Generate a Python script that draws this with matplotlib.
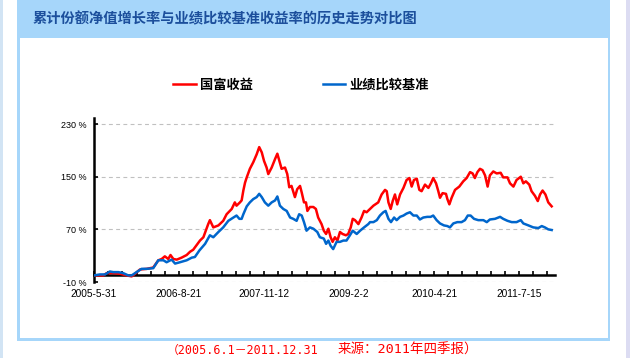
import matplotlib
matplotlib.use("Agg")
import matplotlib.pyplot as plt
from matplotlib.patches import Rectangle
from matplotlib.lines import Line2D

plt.rcParams['font.family'] = ['Noto Sans CJK SC', 'DejaVu Sans']

# ---------------- data (trading-day index, cumulative return %) ----------------
title = "累计份额净值增长率与业绩比较基准收益率的历史走势对比图"
series_names = ["国富收益", "业绩比较基准"]
tick_positions = [0, 300, 600, 900, 1200, 1500]
tick_labels = ["2005-5-31", "2006-8-21", "2007-11-12", "2009-2-2", "2010-4-21", "2011-7-15"]
y_ticks = [-10, 70, 150, 230]
note_left = "（2005.6.1－2011.12.31"
note_right = "来源：2011年四季报）"

red_idx = [0, 33, 45, 68, 92, 115, 133, 145, 162, 186, 209, 227, 239, 250, 262, 270, 280, 292, 309,
           327, 339, 350, 362,
           374, 386, 403, 409, 421, 439, 456, 468, 486, 497, 503, 515, 521, 527, 533, 539, 550, 562,
           574, 583, 592, 600, 609, 615, 627, 639, 647, 654, 662, 674, 682, 689, 697, 709, 717, 727,
           733, 741, 748, 753, 762, 774, 783, 791, 803, 811, 819, 827, 835, 842, 850, 859, 868, 877,
           889, 897, 906, 913, 921, 933, 944, 953, 962,
           974, 986, 1003, 1015, 1027, 1033, 1039, 1047, 1054, 1062, 1070, 1080, 1092, 1103, 1113,
           1121, 1129, 1139, 1148, 1156, 1168, 1180, 1189, 1197, 1207, 1215, 1221, 1230, 1242, 1247,
           1254, 1262, 1274, 1289, 1303, 1315, 1327, 1336, 1344, 1353, 1362, 1371, 1380, 1389, 1397,
           1409, 1421, 1435, 1444, 1459, 1468, 1480, 1491, 1506, 1515, 1524, 1536, 1544, 1556, 1566,
           1574, 1583, 1593, 1603, 1615]
red_val = [0, 0, 3.5, 3.5, 2.5, 0, -1.5, 2.5, 9, 10, 12, 23, 25, 29, 25, 31, 25, 24, 27,
           31, 36, 39, 46,
           53, 58, 78, 84, 73, 76, 83, 93, 101, 111, 106, 111, 114, 129, 141, 149, 162, 172,
           184, 195, 187, 174, 164, 154, 164, 177, 185, 174, 162, 164, 154, 134, 136, 119, 131, 136,
           126, 111, 111, 98, 104, 104, 101, 88, 78, 68, 63, 71, 58, 51, 58, 53, 66, 63,
           61, 63, 73, 86, 84, 78, 88, 98, 96,
           101, 106, 111, 123, 130, 128, 111, 101, 113, 123, 108, 123, 133, 145, 148,
           135, 145, 147, 130, 128, 138, 133, 140, 148, 140, 128, 118, 125, 124, 116,
           108, 118, 130, 135, 143, 148, 157, 155, 148, 157, 162, 160, 152, 135, 152,
           158, 155, 156, 149, 149, 140, 135, 145, 150, 140, 143, 138, 128, 121, 113,
           123, 129, 123, 111, 105]

blue_idx = [0, 21, 39, 56, 68, 86, 103, 121, 133, 150, 168, 186, 209, 227, 245, 256, 274, 286, 303,
            327, 345, 356, 372,
            392, 409, 421, 439, 456, 474, 492, 503, 513, 521, 527, 539, 550, 562, 574, 583, 592, 603,
            615, 627, 639, 647, 656, 668, 680, 692, 703, 715, 724, 733, 741, 750, 762, 774, 788, 797,
            811, 819, 827, 835, 844, 856, 868, 880, 891, 903, 913, 927, 939, 953, 968,
            974, 986, 998, 1009, 1021, 1029, 1039, 1048, 1059, 1068, 1080, 1092, 1103, 1115, 1127,
            1139, 1150, 1162, 1176, 1188, 1197, 1209, 1221, 1235, 1247, 1256, 1268, 1282, 1297, 1309,
            1319, 1329, 1341, 1356, 1374, 1386, 1397, 1415, 1433, 1444, 1459, 1474, 1491, 1506, 1515,
            1533, 1550, 1568, 1580, 1591, 1603, 1615]
blue_val = [0, 1.5, 1.5, 6, 5, 5, 3.5, 0, 0, 5, 10, 10, 11, 23, 23, 20, 24, 18, 20,
            23, 27, 28, 38,
            48, 61, 58, 66, 73, 83, 88, 91, 86, 86, 93, 105, 111, 116, 119, 124, 119, 111,
            106, 111, 114, 120, 106, 101, 98, 88, 86, 83, 93, 91, 81, 68, 73, 71, 66, 58,
            56, 48, 53, 45, 40, 51, 51, 53, 53, 61, 68, 63, 68, 73, 78,
            81, 81, 84, 91, 96, 98, 86, 81, 88, 84, 89, 91, 94, 96, 91,
            91, 85, 88, 89, 89, 91, 84, 79, 76, 75, 73, 79, 81, 81, 84,
            91, 91, 86, 84, 84, 81, 85, 86, 89, 86, 83, 81, 81, 84, 79,
            76, 73, 72, 75, 73, 70, 69]

RED = '#ff0000'
BLUE = '#0066cc'
W, H = 630, 358

fig = plt.figure(figsize=(W / 100, H / 100), dpi=100)
fig.patch.set_facecolor('white')


def px_rect(x0, y0, x1, y1, color, z):
    fig.add_artist(Rectangle((x0 / W, 1 - y1 / H), (x1 - x0) / W, (y1 - y0) / H,
                             transform=fig.transFigure, facecolor=color,
                             edgecolor='none', zorder=z))


# page decoration
px_rect(0, 0, 3, 358, '#d2e4f4', -10)
px_rect(626, 0, 630, 358, '#dcdcf2', -10)
px_rect(17, 0, 610, 341, '#a6d6fa', -9)
px_rect(20, 38, 608, 338, 'white', -8)

fig.text(33 / W, 1 - 19 / H, title, fontsize=10.25, fontweight='bold', color='#1c4f9c',
         ha='left', va='center')

# axes
ax = fig.add_axes([94 / W, 76 / H, 460.5 / W, 164.5 / H])
ax.patch.set_alpha(0)
ax.plot(red_idx, red_val, color=RED, lw=1.8, zorder=3)
ax.plot(blue_idx, blue_val, color=BLUE, lw=1.8, zorder=3)

ax.set_xlim(0, 1625)
ax.set_ylim(-10, 240)

for s in ['top', 'right']:
    ax.spines[s].set_visible(False)
ax.spines['bottom'].set_position(('data', 0))
ax.spines['bottom'].set_linewidth(1.8)
ax.spines['left'].set_linewidth(1.8)

ax.set_xticks(tick_positions)
ax.set_xticklabels(tick_labels, family='Liberation Sans', fontsize=7.3)
ax.set_xticks(list(range(0, 1601, 50)), minor=True)
ax.tick_params(axis='x', which='both', direction='in', length=3, width=1.2, pad=10)

ax.set_yticks(y_ticks)
ax.set_yticklabels([f"{v} %" for v in y_ticks], family='Liberation Sans', fontsize=6.5)
ax.tick_params(axis='y', direction='in', length=3, width=1.2, pad=5)

ax.grid(axis='y', color='#c0c0c0', lw=0.8, linestyle=(0, (3.5, 3)))
ax.set_axisbelow(True)

handles = [Line2D([], [], color=RED, lw=1.8), Line2D([], [], color=BLUE, lw=1.8)]
ax.legend(handles, series_names, ncol=2, loc='center', bbox_to_anchor=(301 / W, 1 - 85 / H),
          bbox_transform=fig.transFigure, frameon=False,
          prop={'family': ['Noto Sans CJK SC', 'DejaVu Sans'], 'weight': 'bold', 'size': 9.5},
          handlelength=1.7, handletextpad=0.3, columnspacing=5.3)

note_font = ['DejaVu Sans Mono', 'Noto Sans CJK SC']
fig.text(167 / W, 1 - 350 / H, note_left, fontsize=8.5, color='#ff0000', ha='left', va='center',
         family=note_font)
fig.text(338 / W, 1 - 350 / H, note_right, fontsize=9.7, color='#ff0000', ha='left', va='center',
         family=note_font)

fig.savefig('out.png', dpi=100)
